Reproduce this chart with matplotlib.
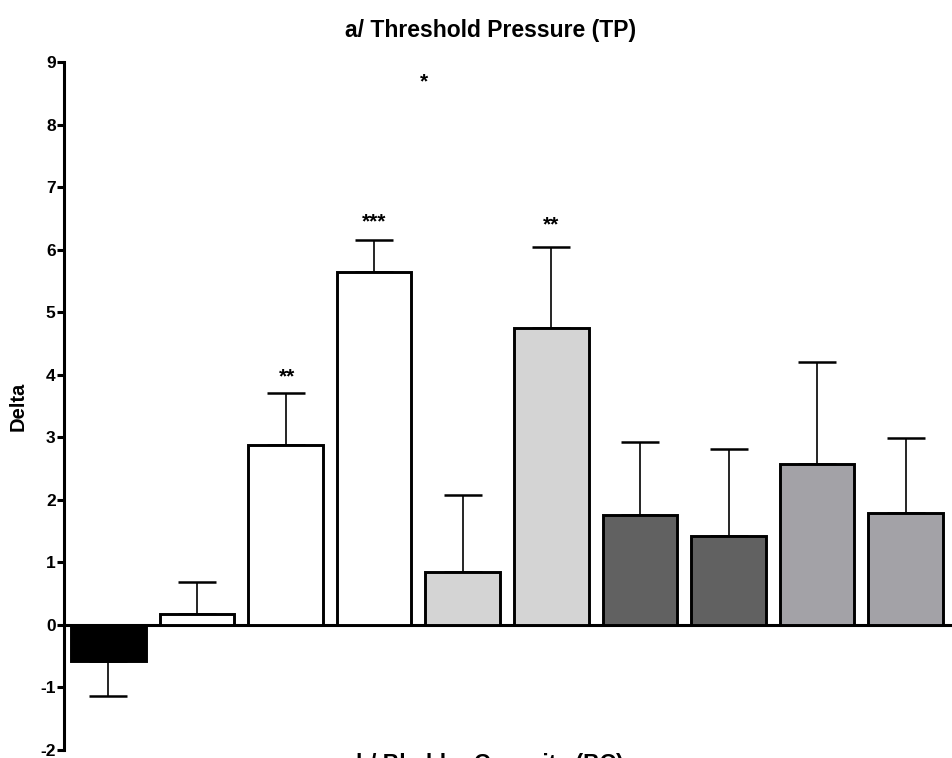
import numpy as np
import matplotlib.pyplot as plt

plt.rcParams['font.family'] = ['Liberation Sans', 'DejaVu Sans']
plt.rcParams['font.weight'] = 'bold'
plt.rcParams['axes.unicode_minus'] = False

# Delta mean and upper SEM limit for each group
valores = [-0.57, 0.17, 2.88, 5.65, 0.84, 4.74, 1.75, 1.42, 2.58, 1.79]
erro_sup = [-1.14, 0.69, 3.70, 6.15, 2.07, 6.05, 2.92, 2.82, 4.21, 2.99]
cores = ['#000000', '#ffffff', '#ffffff', '#ffffff', '#d4d4d4',
         '#d4d4d4', '#616161', '#616161', '#a3a2a7', '#a3a2a7']
# significance marks: (x, y, text)
marcas = [(2.02, 3.97, '**'), (3.0, 6.45, '***'), (5.0, 6.4, '**'), (3.56, 8.68, '*')]

x = np.arange(len(valores))
erro = np.abs(np.array(erro_sup) - np.array(valores))

fig = plt.figure(figsize=(9.53, 7.58), dpi=100)
ax = fig.add_axes([64 / 953, 8 / 758, (950 - 64) / 953, (750 - 62) / 758])

ax.bar(x, valores, width=0.84, color=cores, edgecolor='black', linewidth=2.1, zorder=3)
for xi, v, e in zip(x, valores, erro):
    barra = [[e], [0]] if v < 0 else [[0], [e]]
    ax.errorbar(xi, v, yerr=barra, fmt='none', ecolor='black', elinewidth=1.2,
                capsize=13.7, capthick=1.8, zorder=2)

for xm, ym, txt in marcas:
    ax.text(xm, ym, txt, ha='center', va='center', fontsize=15, fontweight='bold')

ax.set_xlim(-0.5, 9.5)
ax.set_ylim(-2, 9)
ax.set_yticks(range(-2, 10))
ax.set_xticks([])
ax.spines['top'].set_visible(False)
ax.spines['right'].set_visible(False)
ax.spines['bottom'].set_position(('data', 0))
ax.spines['left'].set_linewidth(2.2)
ax.spines['bottom'].set_linewidth(2.2)
ax.tick_params(axis='y', length=5, width=2.2, labelsize=12.5, pad=1)
ax.set_ylabel('Delta', fontsize=14.5, fontweight='bold', labelpad=9)

fig.text(491 / 953, 1 - 37 / 758, 'a/ Threshold Pressure (TP)', ha='center', va='baseline',
         fontsize=16.5, fontweight='bold')
fig.text(490 / 953, 1 - 771 / 758, 'b/ Bladder Capacity (BC)', ha='center', va='baseline',
         fontsize=16.5, fontweight='bold')

fig.savefig('out.png', dpi=100)
